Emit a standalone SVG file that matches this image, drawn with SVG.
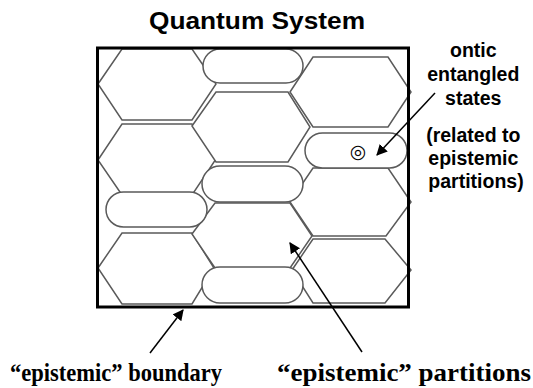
<svg xmlns="http://www.w3.org/2000/svg" width="533" height="388" viewBox="0 0 533 388">
<style>
.cell{fill:#fff;stroke:#5a5a5a;stroke-width:1.5}
.frame{fill:none;stroke:#000;stroke-width:3}
.lbl{font-family:"Liberation Sans",Arial,sans-serif;font-weight:bold;fill:#000}
.serif{font-family:"Liberation Serif","Times New Roman",serif;font-weight:bold;fill:#000}
.arr{stroke:#000;stroke-width:1.5;fill:none}
</style>
<defs>
<marker id="ah" viewBox="0 0 10 10" refX="9" refY="5" markerWidth="11" markerHeight="11" orient="auto" markerUnits="userSpaceOnUse">
<path d="M0,0 L10,5 L0,10 z" fill="#000"/>
</marker>
</defs>
<rect width="533" height="388" fill="#fff"/>
<text class="lbl" x="257" y="29" font-size="24" text-anchor="middle" textLength="216" lengthAdjust="spacingAndGlyphs">Quantum System</text>
<g id="hexes">
<polygon id="h1" class="cell" points="98,84 122,49 192,49 216,84 192,120 122,120"/>
<polygon id="h2" class="cell" points="98,160 122,124 192,124 216,159 192,195 122,195"/>
<polygon id="h3" class="cell" points="98,268 122,233 192,233 214,268 192,304 122,304"/>
<polygon id="m1" class="cell" points="192,126 216,92 288,92 310,127 288,162 216,162"/>
<polygon id="m2" class="cell" points="192,234 215,203 290,203 312,236 290,268 215,268"/>
<polygon id="r1" class="cell" points="290,92 313,57 388,57 411,92 388,127 313,127"/>
<polygon id="r2" class="cell" points="290,202 313,168 388,168 411,202 386,236 313,236"/>
<polygon id="r3" class="cell" points="292,270 313,239 385,239 411,270 385,303 313,303"/>
</g>
<g id="pills">
<rect id="p1" class="cell" x="203" y="49" width="100" height="34" rx="17"/>
<rect id="p2" class="cell" x="202" y="166" width="101" height="36" rx="18"/>
<rect id="p3" class="cell" x="202" y="267" width="101" height="36" rx="18"/>
<rect id="pl" class="cell" x="106" y="192" width="101" height="35" rx="17.5"/>
<g id="ontic">
<rect class="cell" x="305" y="133" width="102" height="35" rx="17.5"/>
<text x="358" y="158" font-size="19" font-weight="bold" text-anchor="middle" font-family="DejaVu Sans, sans-serif" fill="#000">◎</text>
</g>
</g>
<rect id="boundary" class="frame" x="97.5" y="48" width="311" height="259"/>
<g id="connectors">
<line class="arr" x1="435" y1="93" x2="377" y2="155" stroke-width="2" marker-end="url(#ah)"/>
<line class="arr" x1="150" y1="353" x2="183" y2="310" marker-end="url(#ah)"/>
<line class="arr" x1="362" y1="352" x2="290" y2="243" marker-end="url(#ah)"/>
</g>
<g id="labels">
<text class="lbl" font-size="19.5" text-anchor="middle">
<tspan x="476" y="57">ontic</tspan>
<tspan x="476" y="81">entangled</tspan>
<tspan x="476" y="105">states</tspan>
<tspan x="476" y="142">(related to</tspan>
<tspan x="476" y="165">epistemic</tspan>
<tspan x="476" y="188">partitions)</tspan>
</text>
<text class="serif" x="10" y="381" font-size="25" textLength="212" lengthAdjust="spacingAndGlyphs">“epistemic” boundary</text>
<text class="serif" x="277" y="381" font-size="25" textLength="254" lengthAdjust="spacingAndGlyphs">“epistemic” partitions</text>
</g>
</svg>
